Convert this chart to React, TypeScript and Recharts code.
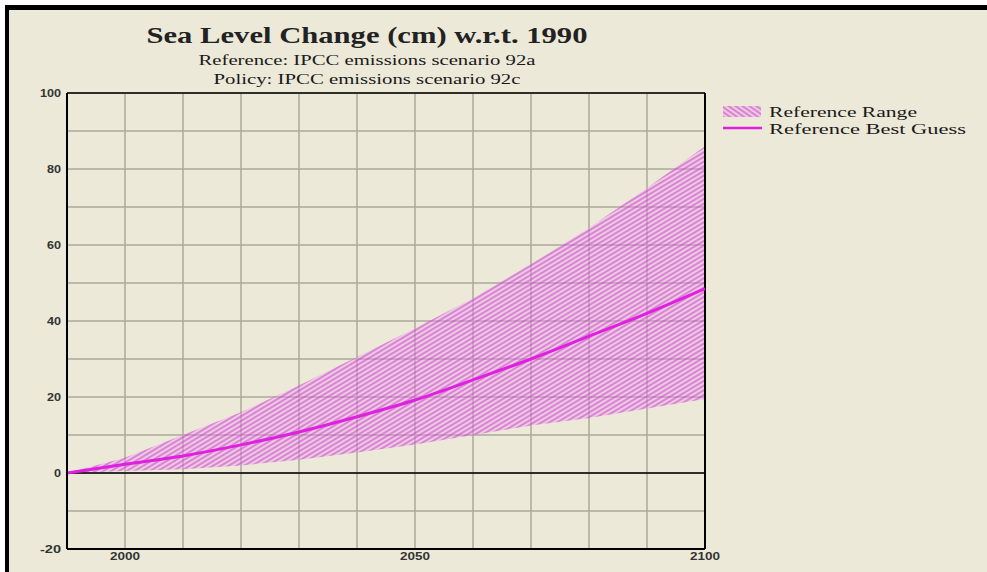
import React from 'react';
import {
  ComposedChart,
  Area,
  Line,
  XAxis,
  YAxis,
  CartesianGrid,
  ReferenceLine,
} from 'recharts';

const years = [1990, 2000, 2010, 2020, 2030, 2040, 2050, 2060, 2070, 2080, 2090, 2100];
const rangeLow = [0, 0.5, 1, 2, 3.5, 5.4, 7.5, 10, 12.5, 14.5, 17, 19.5];
const rangeHigh = [0, 4, 10, 16, 23, 30.5, 38, 46, 55, 64.5, 75, 86];
const bestGuess = [0, 2.3, 4.5, 7.4, 10.8, 14.8, 19.2, 24.5, 30, 36, 42, 48.5];

const xTicks = [1990, 2000, 2010, 2020, 2030, 2040, 2050, 2060, 2070, 2080, 2090, 2100];
const xLabels = [2000, 2050, 2100];
const yTicks = [-20, -10, 0, 10, 20, 30, 40, 50, 60, 70, 80, 90, 100];
const yLabels = [-20, 0, 20, 40, 60, 80, 100];

const titleText = 'Sea Level Change (cm) w.r.t. 1990';
const subtitle1 = 'Reference: IPCC emissions scenario 92a';
const subtitle2 = 'Policy: IPCC emissions scenario 92c';
const legendRange = 'Reference Range';
const legendBest = 'Reference Best Guess';

const data = years.map((year, i) => ({
  year,
  range: [rangeLow[i], rangeHigh[i]],
  best: bestGuess[i],
}));

const MAGENTA = '#e020e0';
const BG = '#ECE9D8';

const YTick = (props: any) => {
  const { x, y, payload } = props;
  if (!yLabels.includes(payload.value)) return <g />;
  const s = String(payload.value);
  return (
    <text
      x={x}
      y={y}
      textAnchor="end"
      dominantBaseline="central"
      fontSize={10}
      fontWeight="bold"
      fontFamily="Arial, 'Liberation Sans', sans-serif"
      fill="#333"
      textLength={s.length * 7}
      lengthAdjust="spacingAndGlyphs"
    >
      {s}
    </text>
  );
};

const XTick = (props: any) => {
  const { x, y, payload } = props;
  if (!xLabels.includes(payload.value)) return <g />;
  const s = String(payload.value);
  return (
    <text
      x={x}
      y={y}
      dy="0.71em"
      textAnchor="middle"
      fontSize={10}
      fontWeight="bold"
      fontFamily="Arial, 'Liberation Sans', sans-serif"
      fill="#333"
      textLength={s.length * 7.5}
      lengthAdjust="spacingAndGlyphs"
    >
      {s}
    </text>
  );
};

export default function App() {
  return (
    <div
      style={{
        position: 'absolute',
        left: 0,
        top: 0,
        width: 987,
        height: 572,
        background: '#ffffff',
        overflow: 'hidden',
      }}
    >
      <div
        style={{
          position: 'absolute',
          left: 5,
          top: 5,
          width: 990,
          height: 580,
          background: BG,
          borderLeft: '4px solid #000',
          borderTop: '5px solid #000',
        }}
      />
      <div style={{ position: 'absolute', left: 0, top: 0 }}>
        <ComposedChart
          width={987}
          height={572}
          data={data}
          margin={{ top: 93, right: 282, bottom: 0, left: 27 }}
        >
          <CartesianGrid stroke="#aca89c" strokeWidth={1.5} />
          <XAxis
            dataKey="year"
            type="number"
            domain={[1990, 2100]}
            ticks={xTicks}
            interval={0}
            height={23}
            tickSize={0}
            tickMargin={4}
            tickLine={false}
            axisLine={{ stroke: '#000', strokeWidth: 2 }}
            tick={<XTick />}
          />
          <YAxis
            type="number"
            domain={[-20, 100]}
            ticks={yTicks}
            interval={0}
            width={40}
            tickSize={0}
            tickMargin={6}
            tickLine={false}
            axisLine={{ stroke: '#000', strokeWidth: 2 }}
            tick={<YTick />}
          />
          <Area
            dataKey="range"
            type="linear"
            fill="url(#rangeHatch)"
            fillOpacity={1}
            stroke="none"
            isAnimationActive={false}
          />
          <ReferenceLine y={0} stroke="#000" strokeWidth={1.5} />
          <ReferenceLine y={100} stroke="#000" strokeWidth={1.5} />
          <ReferenceLine x={2100} stroke="#000" strokeWidth={2} />
          <Line
            dataKey="best"
            type="monotone"
            stroke={MAGENTA}
            strokeWidth={3}
            dot={false}
            isAnimationActive={false}
          />
        </ComposedChart>
      </div>
      <svg
        width={987}
        height={572}
        style={{ position: 'absolute', left: 0, top: 0, pointerEvents: 'none' }}
      >
        <defs>
          <pattern
            id="rangeHatch"
            patternUnits="userSpaceOnUse"
            width={12}
            height={4}
            patternTransform="rotate(-31)"
          >
            <rect x={0} y={0} width={12} height={4} fill="#f296f2" fillOpacity={0.38} />
            <line x1={0} y1={1} x2={12} y2={1} stroke="#c038c8" strokeOpacity={0.8} strokeWidth={1.2} />
          </pattern>
          <pattern
            id="legendHatch"
            patternUnits="userSpaceOnUse"
            width={12}
            height={4}
            patternTransform="rotate(35)"
          >
            <rect x={0} y={0} width={12} height={4} fill="#f296f2" fillOpacity={0.38} />
            <line x1={0} y1={1} x2={12} y2={1} stroke="#c038c8" strokeOpacity={0.8} strokeWidth={1.2} />
          </pattern>
        </defs>
        <text
          x={367}
          y={43}
          textAnchor="middle"
          fontFamily="'Liberation Serif', 'Times New Roman', serif"
          fontSize={24}
          fontWeight="bold"
          fill="#222"
          textLength={441}
          lengthAdjust="spacingAndGlyphs"
        >
          {titleText}
        </text>
        <text
          x={367}
          y={65}
          textAnchor="middle"
          fontFamily="'Liberation Serif', 'Times New Roman', serif"
          fontSize={14}
          fill="#1a1a1a"
          textLength={337}
          lengthAdjust="spacingAndGlyphs"
        >
          {subtitle1}
        </text>
        <text
          x={367}
          y={84}
          textAnchor="middle"
          fontFamily="'Liberation Serif', 'Times New Roman', serif"
          fontSize={14}
          fill="#1a1a1a"
          textLength={307}
          lengthAdjust="spacingAndGlyphs"
        >
          {subtitle2}
        </text>
        <rect x={723} y={106} width={38} height={11} fill="url(#legendHatch)" />
        <text
          x={769}
          y={117}
          fontFamily="'Liberation Serif', 'Times New Roman', serif"
          fontSize={15}
          fill="#1a1a1a"
          textLength={148}
          lengthAdjust="spacingAndGlyphs"
        >
          {legendRange}
        </text>
        <line x1={723} y1={128} x2={762} y2={128} stroke={MAGENTA} strokeWidth={2.5} />
        <text
          x={769}
          y={134}
          fontFamily="'Liberation Serif', 'Times New Roman', serif"
          fontSize={15}
          fill="#1a1a1a"
          textLength={197}
          lengthAdjust="spacingAndGlyphs"
        >
          {legendBest}
        </text>
      </svg>
    </div>
  );
}
